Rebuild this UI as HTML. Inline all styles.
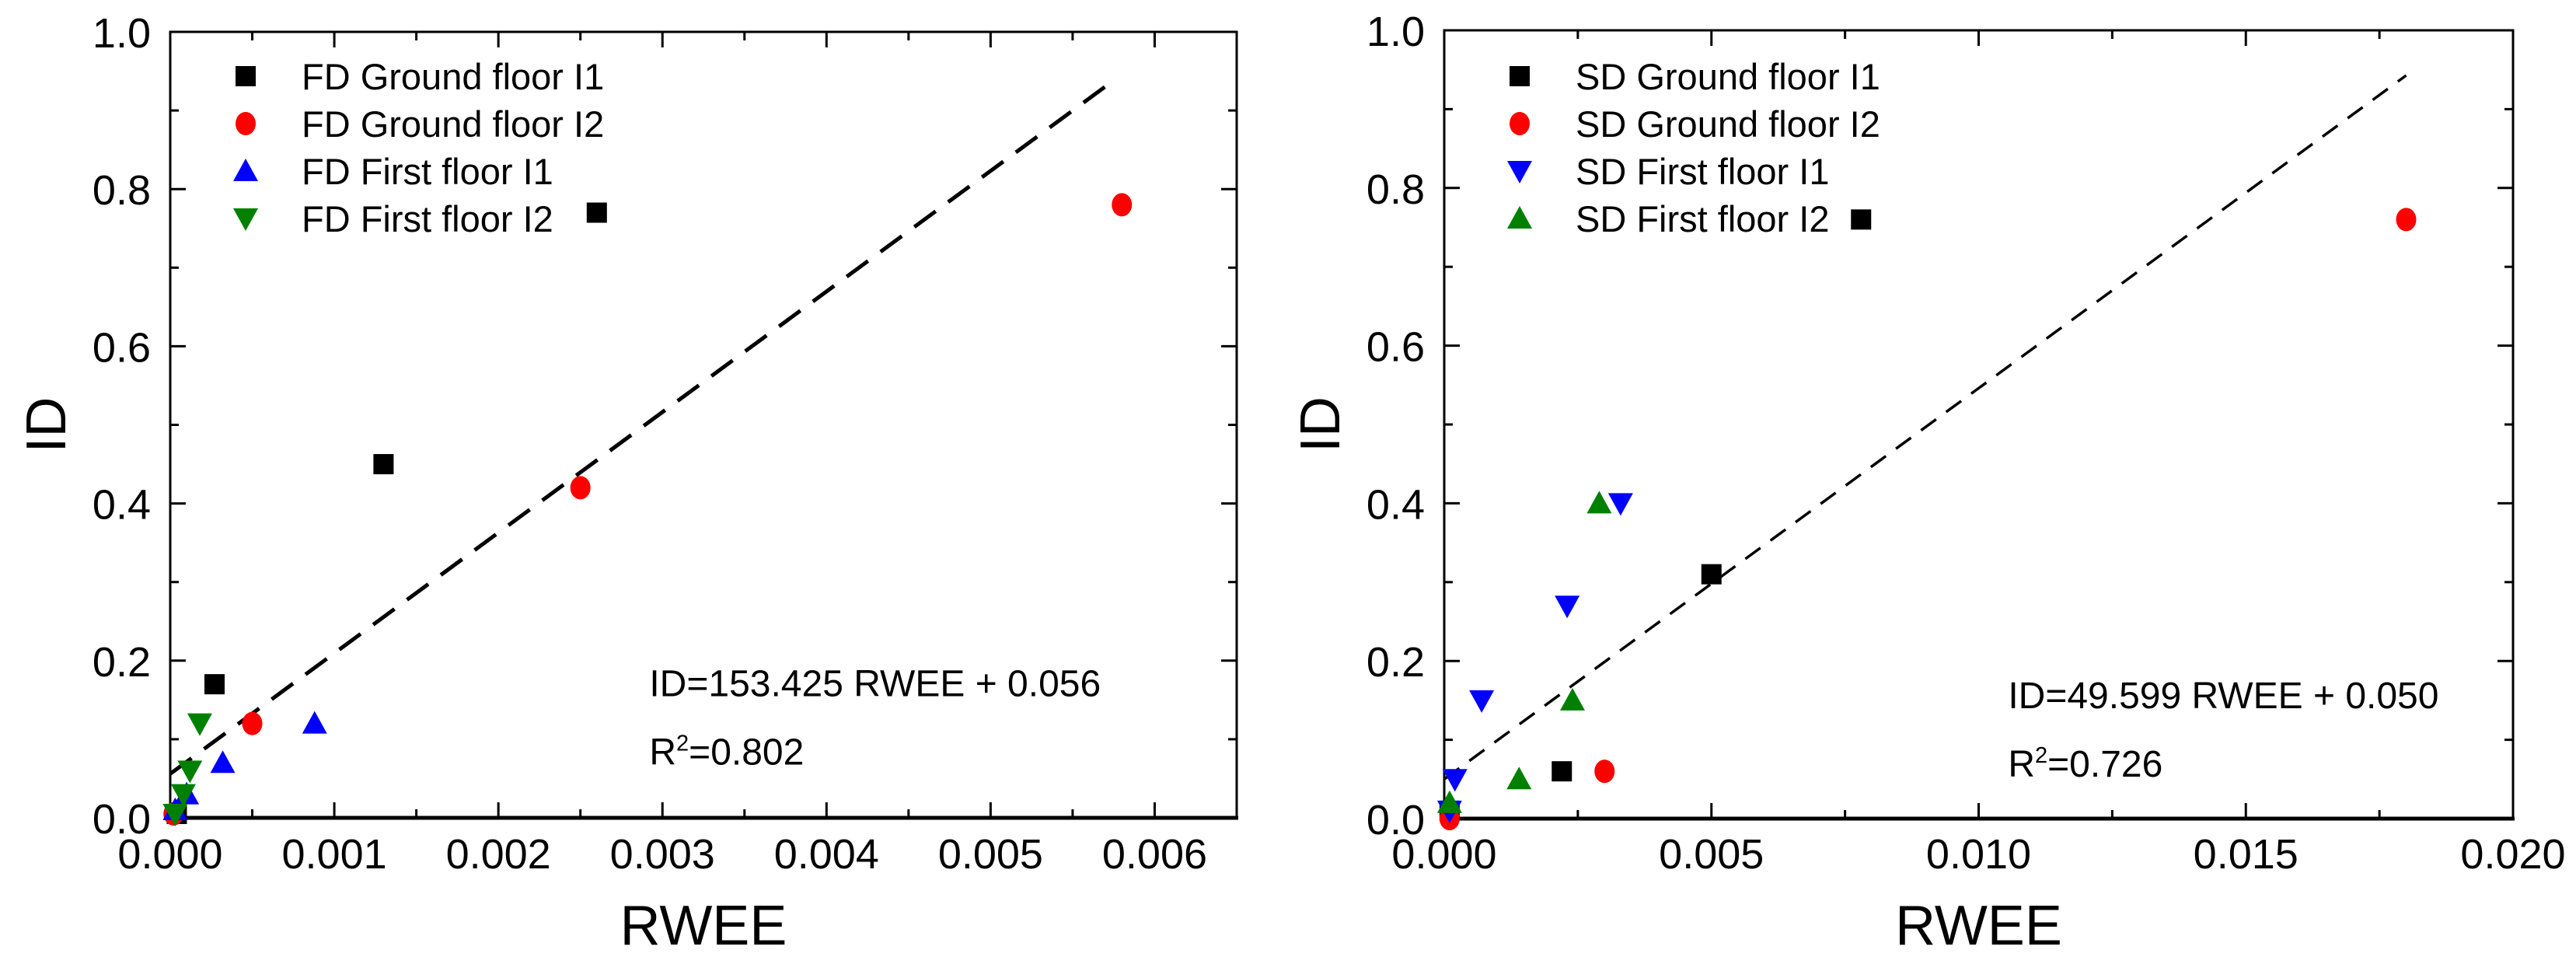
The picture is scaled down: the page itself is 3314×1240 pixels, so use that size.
<!DOCTYPE html>
<html><head><meta charset="utf-8"><style>
html,body{margin:0;padding:0;background:#fff;}
svg{display:block;font-family:"Liberation Sans",sans-serif;}
</style></head><body>
<svg id="c" width="3314" height="1240" viewBox="0 0 3314 1240" xmlns="http://www.w3.org/2000/svg"></svg>
<script>
// ---- data: left panel (FD) ----
const fdGroundI1X = [0.00260, 0.00130, 0.00027, 0.00004];
const fdGroundI1Y = [0.77, 0.45, 0.17, 0.005];
const fdGroundI2X = [0.00580, 0.00250, 0.00050, 0.00002];
const fdGroundI2Y = [0.78, 0.42, 0.12, 0.005];
const fdFirstI1X = [0.00088, 0.00032, 0.00010, 0.00003];
const fdFirstI1Y = [0.12, 0.07, 0.03, 0.01];
const fdFirstI2X = [0.00018, 0.00012, 0.00008, 0.00003];
const fdFirstI2Y = [0.12, 0.06, 0.03, 0.005];
const fdFit = [153.425, 0.056];
const fdFitRange = [0, 0.0057];
const fdXTicks = [0, 0.001, 0.002, 0.003, 0.004, 0.005, 0.006];
const fdXTickLabels = ["0.000","0.001","0.002","0.003","0.004","0.005","0.006"];
// ---- data: right panel (SD) ----
const sdGroundI1X = [0.0078, 0.0050, 0.0022, 0.0001];
const sdGroundI1Y = [0.76, 0.31, 0.06, 0.01];
const sdGroundI2X = [0.0180, 0.0030, 0.0001];
const sdGroundI2Y = [0.76, 0.06, 0.0];
const sdFirstI1X = [0.0033, 0.0023, 0.0007, 0.0002, 0.0001];
const sdFirstI1Y = [0.40, 0.27, 0.15, 0.05, 0.01];
const sdFirstI2X = [0.0029, 0.0024, 0.0014, 0.0001];
const sdFirstI2Y = [0.40, 0.15, 0.05, 0.02];
const sdFit = [49.599, 0.050];
const sdFitRange = [0, 0.0180];
const sdXTicks = [0, 0.005, 0.010, 0.015, 0.020];
const sdXTickLabels = ["0.000","0.005","0.010","0.015","0.020"];
const yTicks = [0, 0.2, 0.4, 0.6, 0.8, 1.0];
const yTickLabels = ["0.0","0.2","0.4","0.6","0.8","1.0"];

const NS = "http://www.w3.org/2000/svg";
const svg = document.getElementById('c');
function mk(tag, attrs, parent, text){
  const e = document.createElementNS(NS, tag);
  for (const k in attrs) e.setAttribute(k, attrs[k]);
  if (text !== undefined) e.textContent = text;
  (parent||svg).appendChild(e);
  return e;
}
function marker(g, shape, color, cx, cy){
  const s = 13; let el;
  if (shape==='square') el = mk('rect',{x:cx-s,y:cy-s,width:2*s,height:2*s,fill:color},g);
  else if (shape==='circle') el = mk('ellipse',{cx:cx,cy:cy,rx:13,ry:15,fill:color},g);
  else if (shape==='up') el = mk('polygon',{points:`${cx},${cy-16} ${cx+16},${cy+13} ${cx-16},${cy+13}`,fill:color},g);
  else el = mk('polygon',{points:`${cx},${cy+16} ${cx+16},${cy-13} ${cx-16},${cy-13}`,fill:color},g);
  return el;
}
function panel(p){
  const g = mk('g',{});
  
  
  const X = v => p.x0 + (v - 0) / p.xmax * (p.x1 - p.x0);
  const Y = v => p.y0 - v * (p.y0 - p.y1);
  const fr = mk('rect',{x:p.x0,y:p.y1,width:p.x1-p.x0,height:p.y0-p.y1,fill:'none',stroke:'#000','stroke-width':3},g);
  
  
  mk('line',{x1:p.x0-2,y1:p.y0,x2:p.x1+2,y2:p.y0,stroke:'#000','stroke-width':5},g);
  const xt = mk('g',{},g);
  
  
  for (let i=0;i<p.xTicks.length;i++){
    const v = p.xTicks[i], x = X(v);
    mk('line',{x1:x,y1:p.y0,x2:x,y2:p.y0-20,stroke:'#000','stroke-width':3},xt);
    mk('line',{x1:x,y1:p.y1,x2:x,y2:p.y1+20,stroke:'#000','stroke-width':3},xt);
    const t = mk('text',{x:x,y:1117,'font-size':54,'text-anchor':'middle'},xt,p.xLabels[i]);
    
    
    if (i < p.xTicks.length-1){
      const m = X(v + (p.xTicks[1]-p.xTicks[0])/2);
      if (m < p.x1-2){
        mk('line',{x1:m,y1:p.y0,x2:m,y2:p.y0-11,stroke:'#000','stroke-width':3},xt);
        mk('line',{x1:m,y1:p.y1,x2:m,y2:p.y1+11,stroke:'#000','stroke-width':3},xt);
      }
    }
  }
  const yt = mk('g',{},g);
  
  
  for (let i=0;i<yTicks.length;i++){
    const y = Y(yTicks[i]);
    mk('line',{x1:p.x0,y1:y,x2:p.x0+20,y2:y,stroke:'#000','stroke-width':3},yt);
    mk('line',{x1:p.x1,y1:y,x2:p.x1-20,y2:y,stroke:'#000','stroke-width':3},yt);
    const t = mk('text',{x:p.x0-25,y:y+20,'font-size':54,'text-anchor':'end'},yt,yTickLabels[i]);
    
    
    if (i < yTicks.length-1){
      const m = Y(yTicks[i]+0.1);
      mk('line',{x1:p.x0,y1:m,x2:p.x0+11,y2:m,stroke:'#000','stroke-width':3},yt);
      mk('line',{x1:p.x1,y1:m,x2:p.x1-11,y2:m,stroke:'#000','stroke-width':3},yt);
    }
  }
  const xtit = mk('text',{x:(p.x0+p.x1)/2,y:1215,'font-size':72,'text-anchor':'middle'},g,'RWEE');
  
  
  const yx = p.x0-135, yy = (p.y0+p.y1)/2;
  const ytit = mk('text',{x:yx,y:yy,'font-size':72,'text-anchor':'middle',transform:`rotate(-90 ${yx} ${yy})`},g,'ID');
  
  
  const fl = mk('line',{x1:X(p.fitRange[0]),y1:Y(p.fit[0]*p.fitRange[0]+p.fit[1]),x2:X(p.fitRange[1]),y2:Y(p.fit[0]*p.fitRange[1]+p.fit[1]),stroke:'#000','stroke-width':p.dashW,'stroke-dasharray':p.dash},g);
  
  
  p.series.forEach(s=>{
    const sg = mk('g',{},g);
    
    
    for (let i=0;i<s.xs.length;i++){
      const m = marker(sg, s.shape, s.color, X(s.xs[i]), Y(s.ys[i]));
      
      
    }
  });
  const lg = mk('g',{},g);
  
  
  p.series.forEach((s,i)=>{
    const ly = 98 + i*61;
    const e = mk('g',{},lg);
    
    
    marker(e, s.shape, s.color, p.x0+97, ly);
    mk('text',{x:p.x0+169,y:ly+17,'font-size':47},e,s.label);
  });
  const eq = mk('text',{x:X(p.eqX),y:Y(p.eqY),'font-size':48},g,p.eq);
  
  
  const r2 = mk('text',{x:X(p.eqX),y:Y(p.eqY)+88,'font-size':48},g);
  
  
  mk('tspan',{},r2,'R');
  mk('tspan',{'font-size':29,dy:-18},r2,'2');
  mk('tspan',{dy:18},r2,'='+p.r2);
}
panel({name:'fd-panel',x0:219,x1:1591,y0:1052,y1:41,xmax:0.0065,xTicks:fdXTicks,xLabels:fdXTickLabels,
  fit:fdFit,fitRange:fdFitRange,dash:'34 20',dashW:5,eq:'ID=153.425 RWEE + 0.056',r2:'0.802',eqX:0.00292,eqY:0.155,
  series:[
   {id:'series-fd-ground-i1',label:'FD Ground floor I1',shape:'square',color:'#000',xs:fdGroundI1X,ys:fdGroundI1Y},
   {id:'series-fd-ground-i2',label:'FD Ground floor I2',shape:'circle',color:'#ff0000',xs:fdGroundI2X,ys:fdGroundI2Y},
   {id:'series-fd-first-i1',label:'FD First floor I1',shape:'up',color:'#0000ff',xs:fdFirstI1X,ys:fdFirstI1Y},
   {id:'series-fd-first-i2',label:'FD First floor I2',shape:'down',color:'#008000',xs:fdFirstI2X,ys:fdFirstI2Y}]});
panel({name:'sd-panel',x0:1858,x1:3233,y0:1053,y1:39,xmax:0.020,xTicks:sdXTicks,xLabels:sdXTickLabels,
  fit:sdFit,fitRange:sdFitRange,dash:'24 16',dashW:3.5,eq:'ID=49.599 RWEE + 0.050',r2:'0.726',eqX:0.01055,eqY:0.14,
  series:[
   {id:'series-sd-ground-i1',label:'SD Ground floor I1',shape:'square',color:'#000',xs:sdGroundI1X,ys:sdGroundI1Y},
   {id:'series-sd-ground-i2',label:'SD Ground floor I2',shape:'circle',color:'#ff0000',xs:sdGroundI2X,ys:sdGroundI2Y},
   {id:'series-sd-first-i1',label:'SD First floor I1',shape:'down',color:'#0000ff',xs:sdFirstI1X,ys:sdFirstI1Y},
   {id:'series-sd-first-i2',label:'SD First floor I2',shape:'up',color:'#008000',xs:sdFirstI2X,ys:sdFirstI2Y}]});
</script>
</body></html>
